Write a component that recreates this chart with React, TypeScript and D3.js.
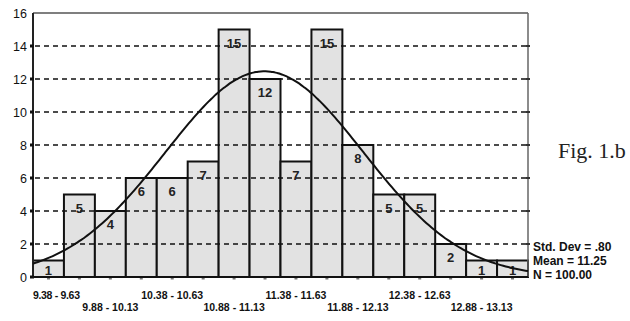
import React from "react";
import * as d3 from "d3";

const categories = [
  "9.38 - 9.63", "9.63 - 9.88", "9.88 - 10.13", "10.13 - 10.38",
  "10.38 - 10.63", "10.63 - 10.88", "10.88 - 11.13", "11.13 - 11.38",
  "11.38 - 11.63", "11.63 - 11.88", "11.88 - 12.13", "12.13 - 12.38",
  "12.38 - 12.63", "12.63 - 12.88", "12.88 - 13.13", "13.13 - 13.38",
];
const counts = [1, 5, 4, 6, 6, 7, 15, 12, 7, 15, 8, 5, 5, 2, 1, 1];
const yTicks = [0, 2, 4, 6, 8, 10, 12, 14, 16];
const binStart = 9.38;
const binEnd = 13.38;
const binWidth = 0.25;
const stdDev = 0.8;
const mean = 11.25;
const nTotal = 100;
const statsLines = ["Std. Dev = .80", "Mean = 11.25", "N = 100.00"];
const figLabel = "Fig. 1.b";

const W = 630;
const H = 321;
const left = 33;
const right = 528;
const top = 13;
const bottom = 277;

export default function App() {
  const x = d3.scaleBand<string>().domain(categories).range([left, right]).padding(0);
  const xv = d3.scaleLinear().domain([binStart, binEnd]).range([left, right]);
  const y = d3.scaleLinear().domain([0, 16]).range([bottom, top]);

  const curvePts: [number, number][] = d3.range(0, 201).map((i) => {
    const v = binStart + ((binEnd - binStart) * i) / 200;
    const z = (v - mean) / stdDev;
    const c = (nTotal * binWidth) / (stdDev * Math.sqrt(2 * Math.PI)) * Math.exp(-0.5 * z * z);
    return [xv(v), y(c)];
  });
  const line = d3.line().curve(d3.curveBasis)(curvePts) || "";

  const font = "'Liberation Sans', Arial, sans-serif";

  return (
    <svg width={W} height={H} style={{ position: "absolute", left: 0, top: 0, background: "#fff" }}>
      {/* bars */}
      {counts.map((c, i) => (
        <rect
          key={"b" + i}
          x={x(categories[i])!}
          y={y(c)}
          width={x.bandwidth()}
          height={bottom - y(c)}
          fill="#e2e2e2"
          stroke="#111"
          strokeWidth={2}
        />
      ))}
      {/* gridlines */}
      {yTicks.filter((t) => t > 0 && t < 16).map((t) => (
        <line
          key={"g" + t}
          x1={left + 2}
          x2={right}
          y1={y(t)}
          y2={y(t)}
          stroke="#111"
          strokeWidth={1.5}
          strokeDasharray="5,4"
        />
      ))}
      {/* borders */}
      <line x1={left} x2={right} y1={top} y2={top} stroke="#555" strokeWidth={1.5} />
      <line x1={right} x2={right} y1={top} y2={bottom} stroke="#666" strokeWidth={1.5} />
      <line x1={left} x2={left} y1={top} y2={bottom + 1} stroke="#222" strokeWidth={2} />
      <line x1={left} x2={right} y1={bottom} y2={bottom} stroke="#111" strokeWidth={2} />
      {/* y ticks */}
      {yTicks.map((t) => (
        <g key={"yt" + t}>
          {t < 16 && <rect x={left - 3} y={y(t) - 1.5} width={4} height={3} fill="#111" />}
          {t > 0 && t < 16 && <rect x={right - 2} y={y(t) - 1} width={4} height={2} fill="#333" />}
          <text x={left - 6} y={y(t) + 4.5} textAnchor="end" fontFamily={font} fontSize={12.5} fill="#111">
            {t}
          </text>
        </g>
      ))}
      {/* x ticks */}
      {categories.map((cat) => (
        <rect key={"xt" + cat} x={x(cat)! + x.bandwidth() / 2 - 1.5} y={bottom + 1} width={3} height={1.5} fill="#777" />
      ))}
      {/* x labels */}
      {categories.map((cat, i) =>
        i % 2 === 0 ? (
          <text
            key={"xl" + cat}
            x={x(cat)! + x.bandwidth() / 2 + (i === 0 ? 8 : 0)}
            y={i % 4 === 0 ? 299 : 311}
            textAnchor="middle"
            fontFamily={font}
            fontSize={10.5}
            fontWeight="bold"
            fill="#111"
            textLength={i === 0 ? 47 : undefined}
          >
            {cat}
          </text>
        ) : null
      )}
      {/* bar labels */}
      {counts.map((c, i) => (
        <text
          key={"v" + i}
          x={x(categories[i])! + x.bandwidth() / 2}
          y={Math.min(y(c) + 13.5, bottom - 7) + 4.5}
          textAnchor="middle"
          fontFamily={font}
          fontSize={13}
          fontWeight="bold"
          fill="#222"
        >
          {c}
        </text>
      ))}
      {/* normal curve */}
      <path d={line} fill="none" stroke="#111" strokeWidth={2} />
      {/* stats */}
      {statsLines.map((s, i) => (
        <text key={"s" + i} x={533} y={251 + i * 14} fontFamily={font} fontSize={12} fontWeight="bold" fill="#111">
          {s}
        </text>
      ))}
      <text x={558} y={158} fontFamily="'Liberation Serif', 'Times New Roman', serif" fontSize={22} fill="#222">
        {figLabel}
      </text>
    </svg>
  );
}
